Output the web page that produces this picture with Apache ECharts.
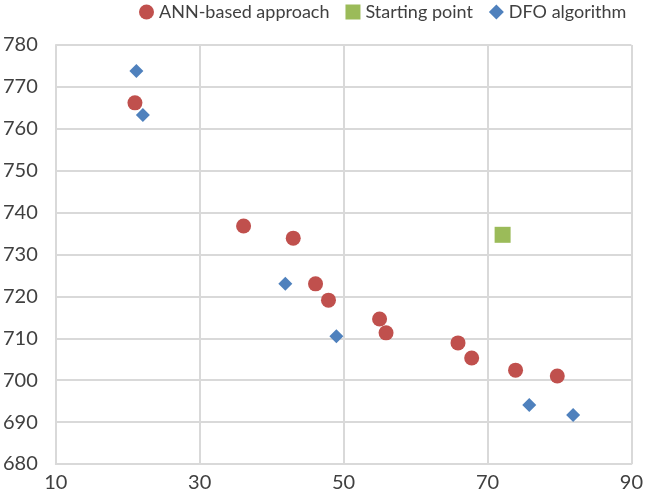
<!DOCTYPE html>
<html><head><meta charset="utf-8">
<script src="https://cdn.jsdelivr.net/npm/echarts@6/dist/echarts.min.js"></script>
<style>html,body{margin:0;padding:0;background:#fff}#c{width:646px;height:501px}</style>
</head><body><div id="c"></div>
<script>
const annX = [21.0, 36.1, 43.0, 46.1, 47.9, 55.0, 55.9, 65.9, 67.8, 73.9, 79.7];
const annY = [766.2, 736.8, 733.9, 723.0, 719.1, 714.6, 711.3, 708.9, 705.3, 702.4, 701.0];
const startX = [72.1];
const startY = [734.7];
const dfoX = [21.2, 22.1, 41.9, 49.0, 75.8, 81.9];
const dfoY = [773.8, 763.3, 723.0, 710.5, 694.1, 691.7];
const xTicks = [10, 30, 50, 70, 90];
const yTicks = [680, 690, 700, 710, 720, 730, 740, 750, 760, 770, 780];

const zip = (a, b) => a.map((v, i) => [v, b[i]]);
const font = 'Lato, "Open Sans", sans-serif';
const chart = echarts.init(document.getElementById('c'));
chart.setOption({
  animation: false,
  textStyle: { fontFamily: font },
  legend: {
    top: 0, left: 134, width: 520, padding: [3, 5, 3, 5], itemGap: 16, itemWidth: 15, itemHeight: 15,
    textStyle: { fontSize: 18, color: '#404040', fontFamily: font },
    data: [
      { name: 'ANN-based approach', icon: 'circle' },
      { name: 'Starting point', icon: 'rect' },
      { name: 'DFO algorithm', icon: 'diamond' }
    ]
  },
  grid: { left: 53, right: 13, top: 45, bottom: 37, containLabel: false },
  xAxis: {
    type: 'value', min: xTicks[0], max: xTicks[xTicks.length - 1], interval: 20,
    axisLine: { show: true, lineStyle: { color: '#D9D9D9', width: 2 } },
    axisTick: { show: false },
    axisLabel: { fontSize: 20, color: '#404040', margin: 9, fontFamily: font },
    splitLine: { show: true, lineStyle: { color: '#D9D9D9', width: 2 } }
  },
  yAxis: {
    type: 'value', min: yTicks[0], max: yTicks[yTicks.length - 1], interval: 10,
    axisLine: { show: true, lineStyle: { color: '#D9D9D9', width: 2 } },
    axisTick: { show: false },
    axisLabel: { fontSize: 20, color: '#404040', margin: 18, fontFamily: font },
    splitLine: { show: true, lineStyle: { color: '#D9D9D9', width: 2 } }
  },
  series: [
    { name: 'ANN-based approach', type: 'scatter', symbol: 'circle', symbolSize: 15,
      itemStyle: { color: '#C0504D', opacity: 1 }, data: zip(annX, annY) },
    { name: 'Starting point', type: 'scatter', symbol: 'rect', symbolSize: 16,
      itemStyle: { color: '#9BBB59', opacity: 1 }, data: zip(startX, startY) },
    { name: 'DFO algorithm', type: 'scatter', symbol: 'diamond', symbolSize: 14,
      itemStyle: { color: '#4F81BD', opacity: 1 }, data: zip(dfoX, dfoY) }
  ]
});
</script></body></html>
